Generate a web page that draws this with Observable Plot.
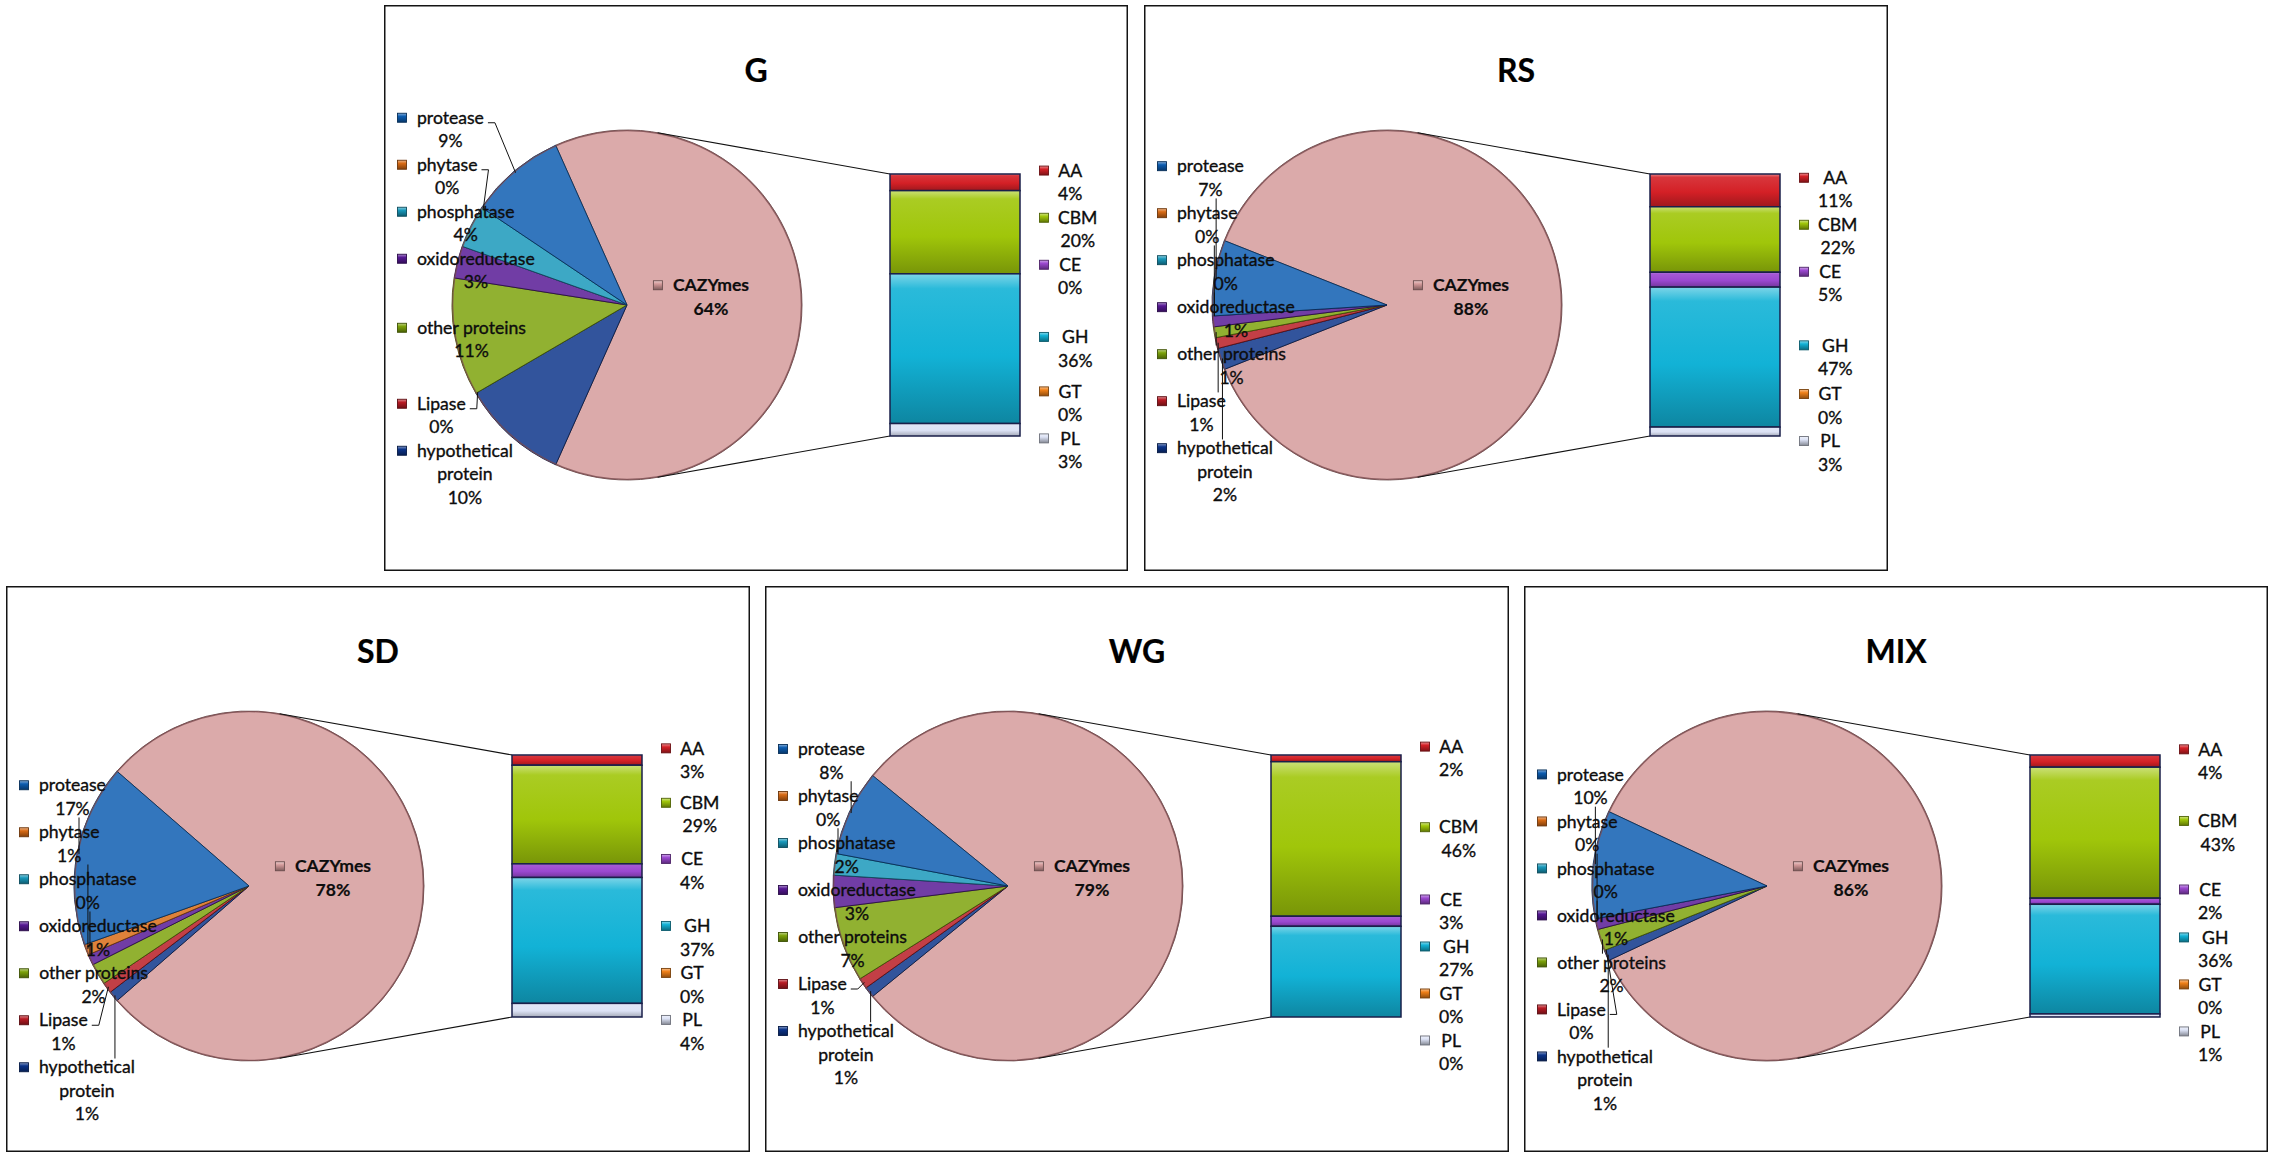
<!DOCTYPE html>
<html><head><meta charset="utf-8">
<script src="https://cdn.jsdelivr.net/npm/d3@7"></script>
<script src="https://cdn.jsdelivr.net/npm/@observablehq/plot@0.6"></script>
<style>
html,body{margin:0;padding:0;background:#fff;}
body{width:2274px;height:1158px;position:relative;overflow:hidden;font-family:Lato,sans-serif;}
.panel{position:absolute;width:744px;height:566px;}
.panel svg{display:block;overflow:visible;}
</style></head><body>
<script>
// ---------- data ----------
const panelNames = ["G", "RS", "SD", "WG", "MIX"];
const pieCategories = ["protease", "phytase", "phosphatase", "oxidoreductase", "other proteins", "Lipase", "hypothetical protein", "CAZYmes"];
const pieG   = [9, 0, 4, 3, 11, 0, 10, 64];
const pieRS  = [7, 0, 0, 1, 1, 1, 2, 88];
const pieSD  = [17, 1, 0, 1, 2, 1, 1, 78];
const pieWG  = [8, 0, 2, 3, 7, 1, 1, 79];
const pieMIX = [10, 0, 0, 1, 2, 0, 1, 86];
const barCategories = ["AA", "CBM", "CE", "GH", "GT", "PL"];
const barG   = [4, 20, 0, 36, 0, 3];
const barRS  = [11, 22, 5, 47, 0, 3];
const barSD  = [3, 29, 4, 37, 0, 4];
const barWG  = [2, 46, 3, 27, 0, 0];
const barMIX = [4, 43, 2, 36, 0, 1];

// ---------- styles / layout ----------
const pieColors = ["#0C5CB0", "#D86A14", "#1898BA", "#561894", "#7CA20A", "#B81A23", "#0B3389", "#D49A9A"];
const barColors = ["#D42026", "#A0C60A", "#9B48D0", "#12B2D6", "#F08018", "#DCE2F5"];
const panelPos = {G: [384, 5], RS: [1144, 5], SD: [6, 586], WG: [765, 586], MIX: [1524, 586]};
const L = {w: 744, h: 566, cx: 243, cy: 300, R: 175, barX0: 506, barX1: 636, barY0: 169, barY1: 431,
  titleY: 66, lh: 23.5, font: 17.6, leftKeyX: 18, leftTextX: 33, rightKeyX: 660, rightTextX: 674,
  labelR: 240, labelCy: 290, labelTop: 101, labelBottom: 540};
const FONT = "Lato, 'Open Sans', sans-serif";

const pies = {G: pieG, RS: pieRS, SD: pieSD, WG: pieWG, MIX: pieMIX};
const bars = {G: barG, RS: barRS, SD: barSD, WG: barWG, MIX: barMIX};

const ctx = document.createElement("canvas").getContext("2d");
function tw(s, bold) { ctx.font = `${bold ? "bold " : ""}${L.font}px Lato`; return ctx.measureText(s).width; }
function mix(c, t, k) { return d3.interpolateRgb(c, t)(k); }
function wrap(name) {
  if (tw(name) <= 135 || name.indexOf(" ") < 0) return [name];
  const i = name.lastIndexOf(" ");
  return [name.slice(0, i), name.slice(i + 1)];
}
function dodge(anchors, heights, lo, hi) {
  const place = c => {
    const off = [0];
    for (let i = c.s + 1; i <= c.e; i++) off.push(off[off.length - 1] + (heights[i - 1] + heights[i]) / 2);
    const meanA = d3.mean(d3.range(c.s, c.e + 1), i => anchors[i]);
    let y0 = meanA - d3.mean(off);
    const top = y0 - heights[c.s] / 2; if (top < lo) y0 += lo - top;
    const bot = y0 + off[off.length - 1] + heights[c.e] / 2; if (bot > hi) y0 -= bot - hi;
    c.pos = off.map(o => y0 + o);
  };
  let clusters = anchors.map((a, i) => ({s: i, e: i}));
  clusters.forEach(place);
  let merged = true;
  while (merged) {
    merged = false;
    for (let k = 0; k < clusters.length - 1; k++) {
      const a = clusters[k], b = clusters[k + 1];
      const need = (heights[a.e] + heights[b.s]) / 2;
      if (b.pos[0] - a.pos[a.pos.length - 1] < need - 1e-6) {
        const c = {s: a.s, e: b.e}; place(c);
        clusters.splice(k, 2, c); merged = true; break;
      }
    }
  }
  const out = [];
  clusters.forEach(c => c.pos.forEach((y, j) => out[c.s + j] = y));
  return out;
}
function addText(g, x, y, s, opts = {}) {
  const fill = opts.fill || "#0d0d0d";
  return g.append("text").attr("x", x).attr("y", y).attr("dy", "0.35em")
    .attr("text-anchor", opts.anchor || "middle")
    .attr("font-family", FONT).attr("font-size", opts.size || L.font)
    .attr("font-weight", opts.bold ? "bold" : "normal")
    .attr("fill", fill).attr("stroke", fill).attr("stroke-width", opts.bold ? 0.2 : 0.35)
    .text(s);
}
function addKey(g, x, y, gradId, color) {
  g.append("rect").attr("x", x - 4.5).attr("y", y - 4.5).attr("width", 9).attr("height", 9)
    .attr("fill", `url(#${gradId})`).attr("stroke", mix(color, "#000", 0.5)).attr("stroke-width", 0.9);
}
function labelBlock(g, lines, keyX, textLeft, yc, gradId, color, bold) {
  const maxW = d3.max(lines, s => tw(s, bold));
  const xc = textLeft + maxW / 2;
  lines.forEach((s, i) => addText(g, xc, yc + (i - (lines.length - 1) / 2) * L.lh, s, {bold}));
  addKey(g, keyX, yc - (lines.length - 1) / 2 * L.lh, gradId, color);
  return maxW;
}

function pieMark(name, barTotal) {
  return (index, scales) => {
    const sx = scales && typeof scales.x === "function" ? scales.x : d3.scaleLinear([0, 1], [L.barX0, L.barX1]);
    const sy = scales && typeof scales.y === "function" ? scales.y : d3.scaleLinear([0, barTotal], [L.barY0, L.barY1]);
    const pid = "p" + name;
    const g = d3.create("svg:g");
    const defs = g.append("defs");
    pieColors.forEach((c, k) => {
      const lg = defs.append("linearGradient").attr("id", `${pid}-pie-${k}`).attr("gradientUnits", "userSpaceOnUse")
        .attr("x1", L.cx - 0.25 * L.R).attr("y1", L.cy - L.R).attr("x2", L.cx + 0.25 * L.R).attr("y2", L.cy + L.R);
      [[0, mix(c, "#fff", 0.16)], [0.3, mix(c, "#fff", 0.06)], [0.55, c], [1, mix(c, "#000", 0.22)]].forEach(([o, col]) =>
        lg.append("stop").attr("offset", o).attr("stop-color", col));
      const kg = defs.append("linearGradient").attr("id", `${pid}-key-${k}`).attr("x1", 0).attr("y1", 0).attr("x2", 0).attr("y2", 1);
      [[0, mix(c, "#fff", 0.5)], [0.35, c], [1, mix(c, "#000", 0.4)]].forEach(([o, col]) =>
        kg.append("stop").attr("offset", o).attr("stop-color", col));
    });
    barColors.forEach((c, k) => {
      const lg = defs.append("linearGradient").attr("id", `${pid}-bar-${k}`).attr("x1", 0).attr("y1", 0).attr("x2", 0).attr("y2", 1);
      [[0, mix(c, "#fff", 0.45)], [0.1, mix(c, "#fff", 0.1)], [0.55, c], [1, mix(c, "#000", 0.25)]].forEach(([o, col]) =>
        lg.append("stop").attr("offset", o).attr("stop-color", col));
      const kg = defs.append("linearGradient").attr("id", `${pid}-bkey-${k}`).attr("x1", 0).attr("y1", 0).attr("x2", 0).attr("y2", 1);
      [[0, mix(c, "#fff", 0.5)], [0.35, c], [1, mix(c, "#000", 0.4)]].forEach(([o, col]) =>
        kg.append("stop").attr("offset", o).attr("stop-color", col));
    });
    // frame
    g.append("rect").attr("x", 0.75).attr("y", 0.75).attr("width", L.w - 1.5).attr("height", L.h - 1.5)
      .attr("fill", "none").attr("stroke", "#141414").attr("stroke-width", 1.5);
    // title
    addText(g, L.w / 2, L.titleY, name, {bold: true, size: 32, fill: "#000"});

    // pie
    const values = pies[name];
    const order = [7, 6, 5, 4, 3, 2, 1, 0];
    const items = order.map(i => ({i, name: pieCategories[i], value: values[i], color: pieColors[i]}));
    const total = d3.sum(items, d => d.value);
    const start = Math.PI / 2 - (values[7] / total) * Math.PI;
    const arcs = d3.pie().sort(null).value(d => d.value).startAngle(start).endAngle(start + 2 * Math.PI)(items);
    const arc = d3.arc().innerRadius(0).outerRadius(L.R);
    const pg = g.append("g").attr("transform", `translate(${L.cx},${L.cy})`);
    arcs.filter(a => a.data.value > 0).forEach(a => {
      pg.append("path").attr("d", arc(a)).attr("fill", `url(#${pid}-pie-${a.data.i})`)
        .attr("stroke", mix(a.data.color, "#000", 0.5)).attr("stroke-width", 0.9).attr("stroke-linejoin", "round");
    });
    pg.append("circle").attr("r", L.R - 0.6).attr("fill", "none").attr("stroke", "#7a4a4e").attr("stroke-opacity", 0.75).attr("stroke-width", 1.4);

    // connectors (tangent from bar corners)
    const corners = [[sx(0), sy(0), -1], [sx(0), sy(barTotal), 1]];
    corners.forEach(([qx, qy, sgn]) => {
      const dx = qx - L.cx, dy = qy - L.cy, d = Math.hypot(dx, dy);
      const phi = Math.atan2(dy, dx) + sgn * Math.acos(L.R / d);
      g.append("line").attr("x1", L.cx + L.R * Math.cos(phi)).attr("y1", L.cy + L.R * Math.sin(phi))
        .attr("x2", qx).attr("y2", qy).attr("stroke", "#111").attr("stroke-width", 1.1);
    });

    // CAZYmes label
    const caz = arcs.find(a => a.data.i === 7);
    const cm = (caz.startAngle + caz.endAngle) / 2;
    const czx = L.cx + 0.48 * L.R * Math.sin(cm), czy = L.cy - 0.48 * L.R * Math.cos(cm) - 8;
    const czLines = ["CAZYmes", values[7] + "%"];
    const czW = d3.max(czLines, s => tw(s, true));
    labelBlock(g, czLines, czx - czW / 2 - 15, czx - czW / 2, czy, `${pid}-key-7`, pieColors[7], true);

    // left labels
    const leftIdx = [0, 1, 2, 3, 4, 5, 6];
    const arcOf = i => arcs.find(a => a.data.i === i);
    const mids = leftIdx.map(i => { const a = arcOf(i); return (a.startAngle + a.endAngle) / 2; });
    const linesArr = leftIdx.map(i => [...wrap(pieCategories[i]), values[i] + "%"]);
    const heights = linesArr.map(l => l.length * L.lh);
    const anchors = mids.map(m => L.labelCy - L.labelR * Math.cos(m));
    const ys = dodge(anchors, heights, L.labelTop, L.labelBottom);
    const lg = g.append("g");
    leftIdx.forEach((i, j) => {
      const lines = linesArr[j];
      const maxW = labelBlock(lg, lines, L.leftKeyX, L.leftTextX, ys[j], `${pid}-key-${i}`, pieColors[i], false);
      // leader line
      const m = mids[j];
      const px = L.cx + (L.R - 2) * Math.sin(m), py = L.cy - (L.R - 2) * Math.cos(m);
      const bx0 = L.leftTextX, bx1 = L.leftTextX + maxW;
      const by0 = ys[j] - heights[j] / 2 + 3, by1 = ys[j] + heights[j] / 2 - 3;
      const qx = Math.max(bx0, Math.min(bx1, px)), qy = Math.max(by0, Math.min(by1, py));
      if (Math.hypot(px - qx, py - qy) > 12) {
        if (px >= bx0 && px <= bx1) {
          lg.append("line").attr("x1", px).attr("y1", qy).attr("x2", px).attr("y2", py)
            .attr("stroke", "#111").attr("stroke-width", 1);
        } else {
          const fy = ys[j] - (lines.length - 1) / 2 * L.lh + 5;
          lg.append("polyline").attr("points", `${bx1 + 4},${fy} ${bx1 + 11},${fy} ${px},${py}`)
            .attr("fill", "none").attr("stroke", "#111").attr("stroke-width", 1);
        }
      }
    });
    return g.node();
  };
}

function barLabelMark(name, barTotal) {
  return (index, scales) => {
    const sy = scales && typeof scales.y === "function" ? scales.y : d3.scaleLinear([0, barTotal], [L.barY0, L.barY1]);
    const pid = "p" + name;
    const vals = bars[name];
    const cum = d3.cumsum(vals);
    const anchors = vals.map((v, k) => sy(cum[k] - v / 2));
    const heights = vals.map(() => 2 * L.lh);
    const ys = dodge(anchors, heights, 90, 550);
    const g = d3.create("svg:g");
    barCategories.forEach((c, k) => {
      labelBlock(g, [c, vals[k] + "%"], L.rightKeyX, L.rightTextX, ys[k], `${pid}-bkey-${k}`, barColors[k], false);
    });
    return g.node();
  };
}

panelNames.forEach(name => {
  const vals = bars[name];
  const barTotal = d3.sum(vals);
  const cum = d3.cumsum(vals);
  const barData = vals.map((v, k) => ({k, cat: barCategories[k], y1: cum[k] - v, y2: cum[k], v})).filter(d => d.v > 0);
  const pid = "p" + name;
  const svg = Plot.plot({
    width: L.w, height: L.h,
    marginTop: L.barY0, marginBottom: L.h - L.barY1, marginLeft: L.barX0, marginRight: L.w - L.barX1,
    x: {domain: [0, 1], axis: null},
    y: {domain: [0, barTotal], reverse: true, axis: null},
    color: {type: "identity"},
    style: {background: "transparent", overflow: "visible", fontFamily: FONT},
    marks: [
      pieMark(name, barTotal),
      Plot.rect(barData, {x1: () => 0, x2: () => 1, y1: "y1", y2: "y2",
        fill: d => `url(#${pid}-bar-${d.k})`, stroke: "#1a1f4a", strokeWidth: 1.5}),
      barLabelMark(name, barTotal)
    ]
  });
  const div = document.createElement("div");
  div.className = "panel";
  div.style.left = panelPos[name][0] + "px";
  div.style.top = panelPos[name][1] + "px";
  div.appendChild(svg);
  document.body.appendChild(div);
});
</script>
</body></html>
